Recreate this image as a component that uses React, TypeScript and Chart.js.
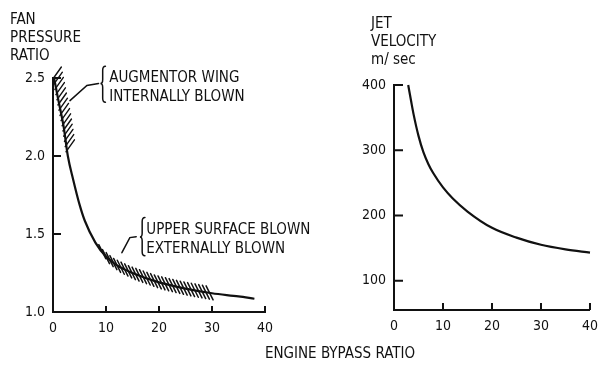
import React, { useEffect, useRef } from "react";
import { Chart, registerables } from "chart.js";

Chart.register(...registerables);

const FONT = '"DejaVu Sans Condensed", "Liberation Sans Narrow", "DejaVu Sans", sans-serif';
const INK = "#111111";

// ---- data ----
const BYPASS_RATIO_FAN = [0.2, 1, 2, 2.8, 3.8, 5, 6, 8, 10, 12, 15, 20, 25, 30, 35, 38];
const FAN_PRESSURE_RATIO = [2.5, 2.36, 2.19, 2.0, 1.85, 1.69, 1.585, 1.445, 1.355, 1.3, 1.25, 1.19, 1.15, 1.12, 1.1, 1.085];

const BYPASS_RATIO_JET = [2.9, 3.5, 4, 5, 6, 7, 8, 10, 12, 15, 20, 25, 30, 35, 40];
const JET_VELOCITY = [400, 375, 355, 322, 297, 279, 265, 243, 226, 206, 181, 166, 155, 148, 143];

const X_TICKS = [0, 10, 20, 30, 40];
const FPR_TICKS = [1.0, 1.5, 2.0, 2.5];
const JV_TICKS = [100, 200, 300, 400];

// hatched regions (data ranges)
const AUGMENTOR_FPR_RANGE = [2.5, 2.03];
const UPPER_SURFACE_BPR_RANGE = [9.3, 29.8];

type Pt = { x: number; y: number };

function interp(pts: Pt[], v: number, key: "x" | "y", other: "x" | "y") {
  const n = pts.length;
  let i = 0;
  if (v <= pts[0][key]) i = 0;
  else if (v >= pts[n - 1][key]) i = n - 2;
  else {
    for (i = 0; i < n - 1; i++) if (v >= pts[i][key] && v <= pts[i + 1][key]) break;
  }
  const a = pts[i], b = pts[i + 1];
  const t = (v - a[key]) / (b[key] - a[key] || 1);
  return a[other] + t * (b[other] - a[other]);
}

const inwardTicks = (xLen: number, yLen: number) => ({
  id: "inwardTicks",
  afterDraw(chart: any) {
    const { ctx, chartArea: ca, scales } = chart;
    const xs = scales.x, ys = scales.y;
    ctx.save();
    ctx.strokeStyle = INK;
    ctx.lineWidth = 2;
    ctx.beginPath();
    xs.ticks.forEach((t: any) => {
      if (t.value === xs.min) return;
      const px = xs.getPixelForValue(t.value);
      ctx.moveTo(px, ca.bottom);
      ctx.lineTo(px, ca.bottom - xLen);
    });
    ys.ticks.forEach((t: any) => {
      if (t.value === ys.min) return;
      const py = ys.getPixelForValue(t.value);
      ctx.moveTo(ca.left, py);
      ctx.lineTo(ca.left + yLen, py);
    });
    ctx.stroke();
    ctx.restore();
  },
});

function brace(ctx: CanvasRenderingContext2D, x: number, top: number, mid: number, bot: number, w: number) {
  const xm = x + w * 0.45;
  ctx.beginPath();
  ctx.moveTo(x + w, top);
  ctx.quadraticCurveTo(xm, top, xm, top + 4);
  ctx.lineTo(xm, mid - 4);
  ctx.quadraticCurveTo(xm, mid, x, mid);
  ctx.quadraticCurveTo(xm, mid, xm, mid + 4);
  ctx.lineTo(xm, bot - 4);
  ctx.quadraticCurveTo(xm, bot, x + w, bot);
  ctx.stroke();
}

const fanAnnotations = {
  id: "fanAnnotations",
  afterDatasetsDraw(chart: any) {
    const { ctx, scales } = chart;
    const xs = scales.x, ys = scales.y;
    const X = (v: number) => xs.getPixelForValue(v);
    const Y = (v: number) => ys.getPixelForValue(v);
    const pts: Pt[] = chart.getDatasetMeta(0).data.map((p: any) => ({ x: p.x, y: p.y }));

    ctx.save();
    ctx.strokeStyle = INK;
    ctx.fillStyle = INK;
    ctx.lineCap = "round";

    // augmentor wing hatch (right side of steep part)
    ctx.lineWidth = 1.4;
    ctx.beginPath();
    for (let py = Y(AUGMENTOR_FPR_RANGE[0]) - 1; py <= Y(AUGMENTOR_FPR_RANGE[1]); py += 5.2) {
      const cx = interp(pts, py, "y", "x");
      ctx.moveTo(cx - 1, py + 2);
      ctx.lineTo(cx + 7.5, py - 10);
    }
    ctx.stroke();
    // upper surface blown hatch (band straddling the curve)
    ctx.lineWidth = 1.5;
    ctx.beginPath();
    for (let px = X(UPPER_SURFACE_BPR_RANGE[0]); px <= X(UPPER_SURFACE_BPR_RANGE[1]); px += 3.7) {
      const cy = interp(pts, px, "x", "y");
      ctx.moveTo(px - 3.5, cy - 7);
      ctx.lineTo(px + 3.5, cy + 7);
    }
    ctx.stroke();

    // braces and leaders
    ctx.lineWidth = 1.5;
    brace(ctx, X(8.95), Y(2.575), Y(2.465), Y(2.345), 5);
    brace(ctx, X(16.4), Y(1.605), Y(1.48), Y(1.36), 5);

    ctx.beginPath();
    ctx.moveTo(X(8.6), Y(2.465));
    ctx.lineTo(X(6.4), Y(2.452));
    ctx.lineTo(X(3.2), Y(2.355));
    ctx.moveTo(X(15.7), Y(1.483));
    ctx.lineTo(X(14.5), Y(1.477));
    ctx.lineTo(X(13.0), Y(1.38));
    ctx.stroke();

    ctx.font = "15px " + FONT;
    ctx.textBaseline = "alphabetic";
    ctx.textAlign = "left";
    ctx.fillText("AUGMENTOR WING", X(10.6), Y(2.477));
    ctx.fillText("INTERNALLY BLOWN", X(10.6), Y(2.355));
    ctx.fillText("UPPER SURFACE BLOWN", X(17.6), Y(1.497));
    ctx.fillText("EXTERNALLY BLOWN", X(17.6), Y(1.381));
    ctx.restore();
  },
};

function makeScales(yTicks: number[], yMin: number, yMax: number, yWidth: number, xHeight: number, fmt: (v: number) => string) {
  const tickFont = { family: FONT, size: 14 };
  return {
    x: {
      type: "linear",
      min: 0,
      max: 40,
      afterBuildTicks: (s: any) => {
        s.ticks = X_TICKS.map((v) => ({ value: v }));
      },
      afterFit: (s: any) => {
        s.height = xHeight;
      },
      grid: { display: false, drawTicks: false },
      border: { display: true, color: INK, width: 2 },
      ticks: { color: INK, font: tickFont, padding: 8, maxRotation: 0, autoSkip: false },
    },
    y: {
      type: "linear",
      min: yMin,
      max: yMax,
      afterBuildTicks: (s: any) => {
        s.ticks = yTicks.map((v) => ({ value: v }));
      },
      afterFit: (s: any) => {
        s.width = yWidth;
      },
      grid: { display: false, drawTicks: false },
      border: { display: true, color: INK, width: 2 },
      ticks: { color: INK, font: tickFont, padding: 8, autoSkip: false, callback: (v: any) => fmt(Number(v)) },
    },
  };
}

function FanChart() {
  const ref = useRef<HTMLCanvasElement>(null);
  useEffect(() => {
    const chart = new Chart(ref.current!, {
      type: "line",
      data: {
        datasets: [
          {
            data: BYPASS_RATIO_FAN.map((x, i) => ({ x, y: FAN_PRESSURE_RATIO[i] })),
            borderColor: INK,
            borderWidth: 2.2,
            pointRadius: 0,
            cubicInterpolationMode: "monotone",
            clip: false as any,
          },
        ],
      },
      options: {
        responsive: false,
        animation: false,
        events: [],
        layout: { padding: { top: 78, right: 65, left: 0, bottom: 0 } },
        plugins: { legend: { display: false }, tooltip: { enabled: false } },
        scales: makeScales(FPR_TICKS, 1.0, 2.5, 53, 54, (v) => v.toFixed(1)) as any,
      },
      plugins: [inwardTicks(6, 8), fanAnnotations],
    } as any);
    return () => chart.destroy();
  }, []);
  return <canvas ref={ref} width={330} height={366} style={{ position: "absolute", left: 0, top: 0 }} />;
}

function JetChart() {
  const ref = useRef<HTMLCanvasElement>(null);
  useEffect(() => {
    const chart = new Chart(ref.current!, {
      type: "line",
      data: {
        datasets: [
          {
            data: BYPASS_RATIO_JET.map((x, i) => ({ x, y: JET_VELOCITY[i] })),
            borderColor: INK,
            borderWidth: 2.2,
            pointRadius: 0,
            cubicInterpolationMode: "monotone",
            clip: false as any,
          },
        ],
      },
      options: {
        responsive: false,
        animation: false,
        events: [],
        layout: { padding: { top: 85, right: 7, left: 0, bottom: 0 } },
        plugins: { legend: { display: false }, tooltip: { enabled: false } },
        scales: makeScales(JV_TICKS, 55, 400, 94, 56, (v) => String(v)) as any,
      },
      plugins: [inwardTicks(7, 9)],
    } as any);
    return () => chart.destroy();
  }, []);
  return <canvas ref={ref} width={306} height={366} style={{ position: "absolute", left: 300, top: 0 }} />;
}

const titleStyle: React.CSSProperties = {
  position: "absolute",
  fontSize: 15,
  lineHeight: "18px",
  whiteSpace: "nowrap",
};

export default function App() {
  return (
    <div
      style={{
        position: "absolute",
        left: 0,
        top: 0,
        width: 606,
        height: 366,
        background: "#fff",
        fontFamily: FONT,
        color: INK,
        overflow: "hidden",
      }}
    >
      <FanChart />
      <JetChart />
      <div style={{ ...titleStyle, left: 10, top: 10 }}>
        <div>FAN</div>
        <div>PRESSURE</div>
        <div>RATIO</div>
      </div>
      <div style={{ ...titleStyle, left: 371, top: 14 }}>
        <div>JET</div>
        <div>VELOCITY</div>
        <div>m/ sec</div>
      </div>
      <div style={{ ...titleStyle, left: 240, width: 200, textAlign: "center", top: 344 }}>ENGINE BYPASS RATIO</div>
    </div>
  );
}
